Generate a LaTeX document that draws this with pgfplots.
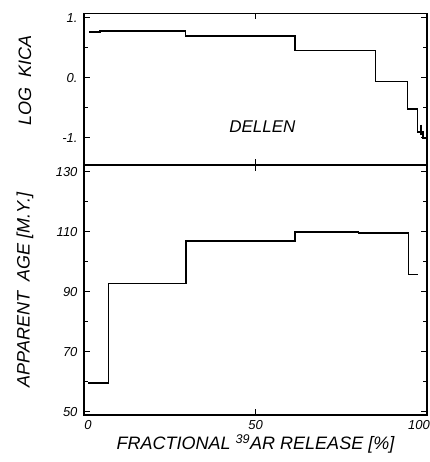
\documentclass[border=0pt]{standalone}
\usepackage{fontspec}
\setmainfont{Liberation Sans}
\usepackage{pgfplots}
\pgfplotsset{compat=1.18}
\begin{document}
\begin{tikzpicture}
\path[use as bounding box] (-84pt,-47pt) rectangle (345pt,415pt);
\pgfplotsset{
  every axis/.append style={
    scale only axis, width=343pt,
    xmin=0, xmax=100,
    axis line style={line width=1.3pt},
    tick style={line width=1pt, black},
    major tick length=6pt, minor tick length=4pt,
    tick align=inside,
    xtick={0,50,100},
    minor y tick num=1,
    /pgf/number format/assume math mode=true,
    tick label style={font=\fontsize{13}{13}\selectfont\itshape},
    label style={font=\fontsize{18}{18}\selectfont\itshape},
  }
}
% bottom panel: apparent age
\begin{axis}[
  at={(0,0)}, anchor=south west,
  height=250pt,
  ymin=48.9, ymax=132.3,
  ytick={50,70,90,110,130},
  xticklabels={\hspace*{8pt}0, 50, 100\hspace*{16pt}},
  xlabel={FRACTIONAL \textsuperscript{39}AR RELEASE [\%]},
  ylabel={APPARENT\ \ AGE [M.Y.]},
  xlabel style={at={(axis description cs:0.5,-0.115)}, anchor=center},
  ylabel style={at={(axis description cs:-0.172,0.5)}, anchor=center},
  yticklabel style={xshift=-3pt},
  xticklabel style={yshift=-2pt},
]
\addplot[black, line width=1.6pt, const plot] coordinates {
  (1.3,59.5) (7.1,92.8) (29.8,107.0) (61.6,110.0) (80,109.6) (94.6,95.8) (97.5,95.8)
};
\end{axis}
% top panel: log K/Ca
\begin{axis}[
  at={(0,250pt)}, anchor=south west,
  height=151.5pt,
  ymin=-1.45, ymax=1.07,
  ytick={-1,0,1},
  yticklabels={-1.,0.,1.},
  xticklabels={},
  ylabel={LOG\ \ KICA},
  ylabel style={at={(axis description cs:-0.172,0.56)}, anchor=center},
  yticklabel style={xshift=-3pt},
]
\addplot[black, line width=1.6pt, const plot] coordinates {
  (1.5,0.76) (4.6,0.78) (29.6,0.70) (61.6,0.455) (85,-0.06) (94.3,-0.52) (97.2,-0.9) (98.8,-1.0) (100,-1.0)
};
\addplot[black, line width=1.6pt] coordinates {(98.3,-0.78) (98.3,-0.95)};
\node[font=\fontsize{17}{17}\selectfont\itshape] at (axis cs:52,-0.81) {DELLEN};
\end{axis}
\end{tikzpicture}
\end{document}
